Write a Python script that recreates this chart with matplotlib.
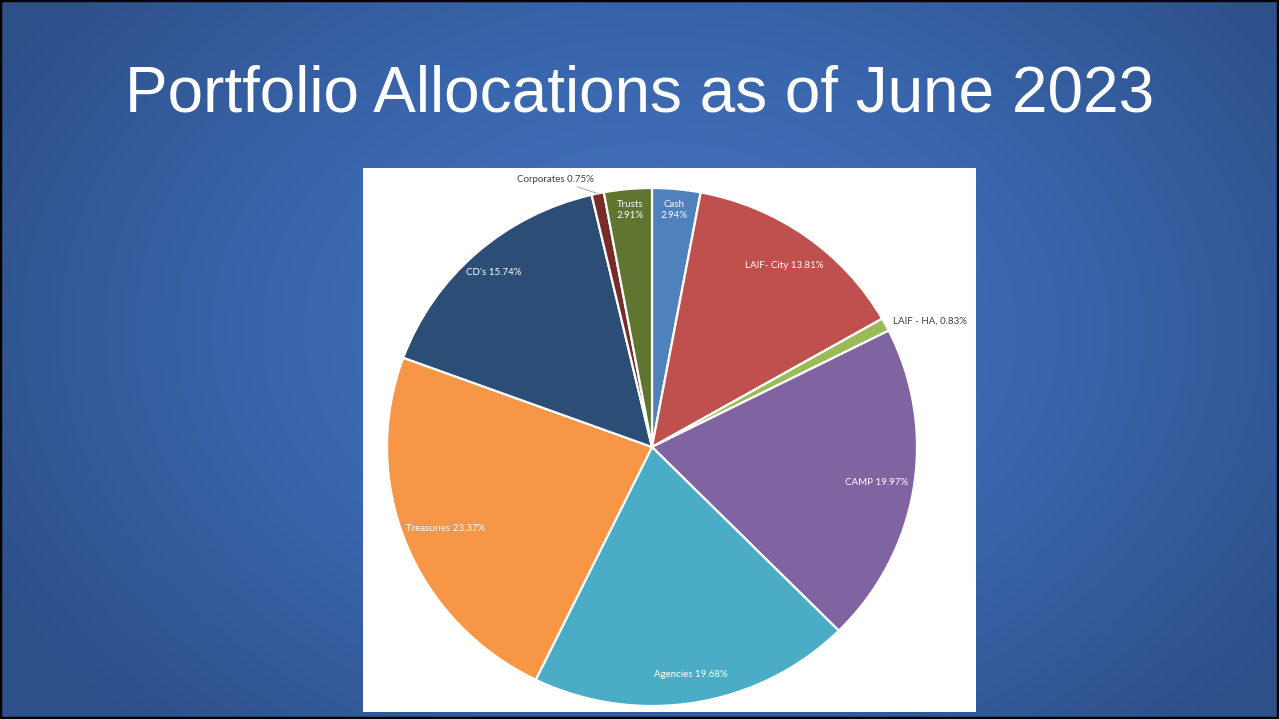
import numpy as np
import matplotlib.pyplot as plt
from matplotlib.colors import LinearSegmentedColormap
from matplotlib.patches import Rectangle

# data
categories = ["Cash", "LAIF- City", "LAIF - HA", "CAMP", "Agencies",
              "Treasuries", "CD's", "Corporates", "Trusts"]
shares = [2.94, 13.81, 0.83, 19.97, 19.68, 23.37, 15.74, 0.75, 2.91]
labels = ["Cash\n2.94%", "LAIF- City 13.81%", "LAIF - HA, 0.83%", "CAMP 19.97%",
          "Agencies 19.68%", "Treasuries 23.37%", "CD's 15.74%",
          "Corporates 0.75%", "Trusts\n2.91%"]
colors = ["#4f81bd", "#c0504d", "#9bbb59", "#8064a2", "#4bacc6",
          "#f79646", "#2c4d75", "#772c2a", "#5f7530"]

fig = plt.figure(figsize=(12.79, 7.19), dpi=100)

# slide background: radial blue gradient
bg = fig.add_axes([0, 0, 1, 1])
yy, xx = np.mgrid[0:719, 0:1279]
d = np.sqrt(((xx - 660) / 760.0) ** 2 + ((yy - 330) / 560.0) ** 2)
d = np.clip(d, 0, 1)
cmap = LinearSegmentedColormap.from_list("slide", ["#4676bf", "#3a66ad", "#2d5089"])
bg.imshow(d, cmap=cmap, aspect="auto", extent=[0, 1279, 719, 0])
bg.set_xlim(0, 1279)
bg.set_ylim(719, 0)
bg.axis("off")
bg.add_patch(Rectangle((0, 0), 1278, 718, fill=False, edgecolor="black", lw=2.5))

fig.text(0.5, 0.868, "Portfolio Allocations as of June 2023", color="white",
         fontsize=46, family="Liberation Sans", ha="center", va="center")

# white chart area
fig.patches.append(Rectangle((363 / 1279, 1 - 712 / 719), 613 / 1279, 544 / 719,
                             transform=fig.transFigure, facecolor="white",
                             edgecolor="none", zorder=1))

# pie
ax = fig.add_axes([(652 - 265) / 1279, (719 - 447 - 259) / 719, 530 / 1279, 518 / 719])
ax.set_zorder(2)
wedges, _ = ax.pie(shares, colors=colors, startangle=90, counterclock=False,
                   wedgeprops=dict(edgecolor="white", linewidth=1.6))
ax.set_aspect("auto")
ax.set_xlim(-1.0, 1.0)
ax.set_ylim(-1.0, 1.0)

label_r = [0.92, 0.86, None, 0.86, 0.89, 0.84, 0.90, None, 0.92]
for w, lab, r in zip(wedges, labels, label_r):
    ang = np.deg2rad((w.theta1 + w.theta2) / 2)
    if r is not None:
        ax.text(r * np.cos(ang), r * np.sin(ang), lab, color="white", fontsize=7,
                family="Lato", ha="center", va="center", linespacing=1.3)

# outside labels
w = wedges[2]
ang = np.deg2rad((w.theta1 + w.theta2) / 2)
ax.text(1.03 * np.cos(ang), 1.03 * np.sin(ang), labels[2], color="#404040",
        fontsize=7, family="Lato", ha="left", va="center")

w = wedges[7]
ang = np.deg2rad((w.theta1 + w.theta2) / 2)
ax.annotate(labels[7], xy=(np.cos(ang), np.sin(ang)), xytext=(-3, 10),
            textcoords="offset points", color="#404040", fontsize=7,
            family="Lato", ha="right", va="center", annotation_clip=False,
            arrowprops=dict(arrowstyle="-", color="#a6a6a6", lw=0.7,
                            shrinkA=0, shrinkB=0))

fig.savefig("out.png", dpi=100)
